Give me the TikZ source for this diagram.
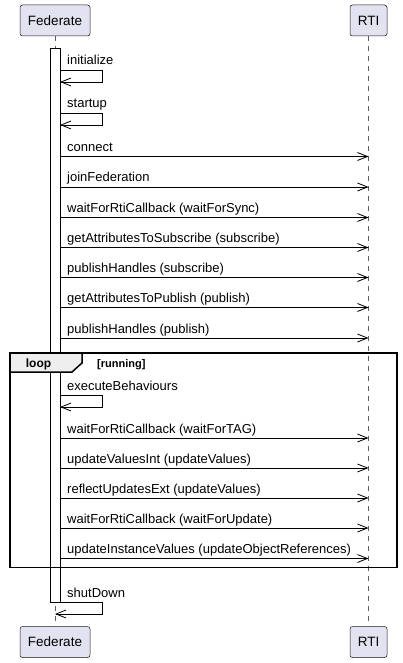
\documentclass[tikz,border=0pt]{standalone}
\usepackage{fontspec}
\setmainfont{Liberation Sans}
\usetikzlibrary{arrows.meta}
\definecolor{partfill}{HTML}{E2E2F0}
\definecolor{partline}{HTML}{181818}
\definecolor{tabfill}{HTML}{EEEEEE}
\begin{document}
\begin{tikzpicture}[x=1pt,y=-1pt,
part/.style={draw=partline,line width=0.5pt,fill=partfill,rounded corners=2.5pt,minimum height=31pt,inner sep=0pt,font=\fontsize{13.5}{16}\selectfont},
life/.style={draw=partline!70,line width=0.6pt,dash pattern=on 5pt off 5pt},
call/.style={line width=0.8pt,-{Straight Barb[length=10pt,width=8pt]}},
msg/.style={anchor=base west,inner sep=0pt,font=\fontsize{13}{15}\selectfont}]
\useasboundingbox (0,0) rectangle (402,663);
% participants
\node[part,minimum width=70pt] (fedtop) at (55,20.5) {Federate};
\node[part,minimum width=37pt] (rtitop) at (368.5,20.5) {RTI};
\node[part,minimum width=70pt] (fedbot) at (55,642) {Federate};
\node[part,minimum width=37pt] (rtibot) at (368.5,642) {RTI};
\draw[life] (fedtop) -- (fedbot);
\draw[life] (rtitop) -- (rtibot);
\node[draw,fill=white,line width=0.8pt,minimum width=10pt,minimum height=554pt,inner sep=0pt] (act) at (55,325) {};
% self calls
\foreach \y/\t [count=\i] in {70/initialize,113/startup,395/executeBehaviours}{
  \node[msg] (self\i) at (67,\y-5) {\t};
  \coordinate (s\i) at (60,\y);
  \draw[call] (s\i) -- ++(42,0) -- ++(0,12) -- ++(-42,0);
}
% calls to the RTI
\foreach \y/\t [count=\i] in {156.5/connect,187/joinFederation,217.5/{waitForRtiCallback (waitForSync)},
  247.5/{getAttributesToSubscribe (subscribe)},277.5/{publishHandles (subscribe)},
  307.5/{getAttributesToPublish (publish)},338/{publishHandles (publish)},
  438/{waitForRtiCallback (waitForTAG)},468/{updateValuesInt (updateValues)},
  498/{reflectUpdatesExt (updateValues)},528/{waitForRtiCallback (waitForUpdate)},
  558.5/{updateInstanceValues (updateObjectReferences)}}{
  \node[msg] (call\i) at (67,\y-5) {\t};
  \coordinate (f\i) at (60,\y);
  \coordinate (r\i) at (368.5,\y);
  \draw[call] (f\i) -- (r\i);
}
% loop frame
\draw[line width=1.5pt] (10,353) rectangle (397,567.5);
\draw[line width=1.5pt,fill=tabfill] (10,353) -- (82,353) -- (82,363) -- (72,372) -- (10,372) -- cycle;
\node[anchor=base,inner sep=0pt,font=\bfseries\fontsize{12}{14}\selectfont] (loop) at (38.5,367) {loop};
\node[anchor=base west,inner sep=0pt,font=\bfseries\fontsize{11}{13}\selectfont] (guard) at (97,367) {[running]};
% shutdown
\node[msg] (stop) at (67,597) {shutDown};
\coordinate (s4) at (60,602);
\draw[call] (s4) -- ++(42,0) -- ++(0,12) -- (fedtop.south |- 0,614);
\end{tikzpicture}
\end{document}
